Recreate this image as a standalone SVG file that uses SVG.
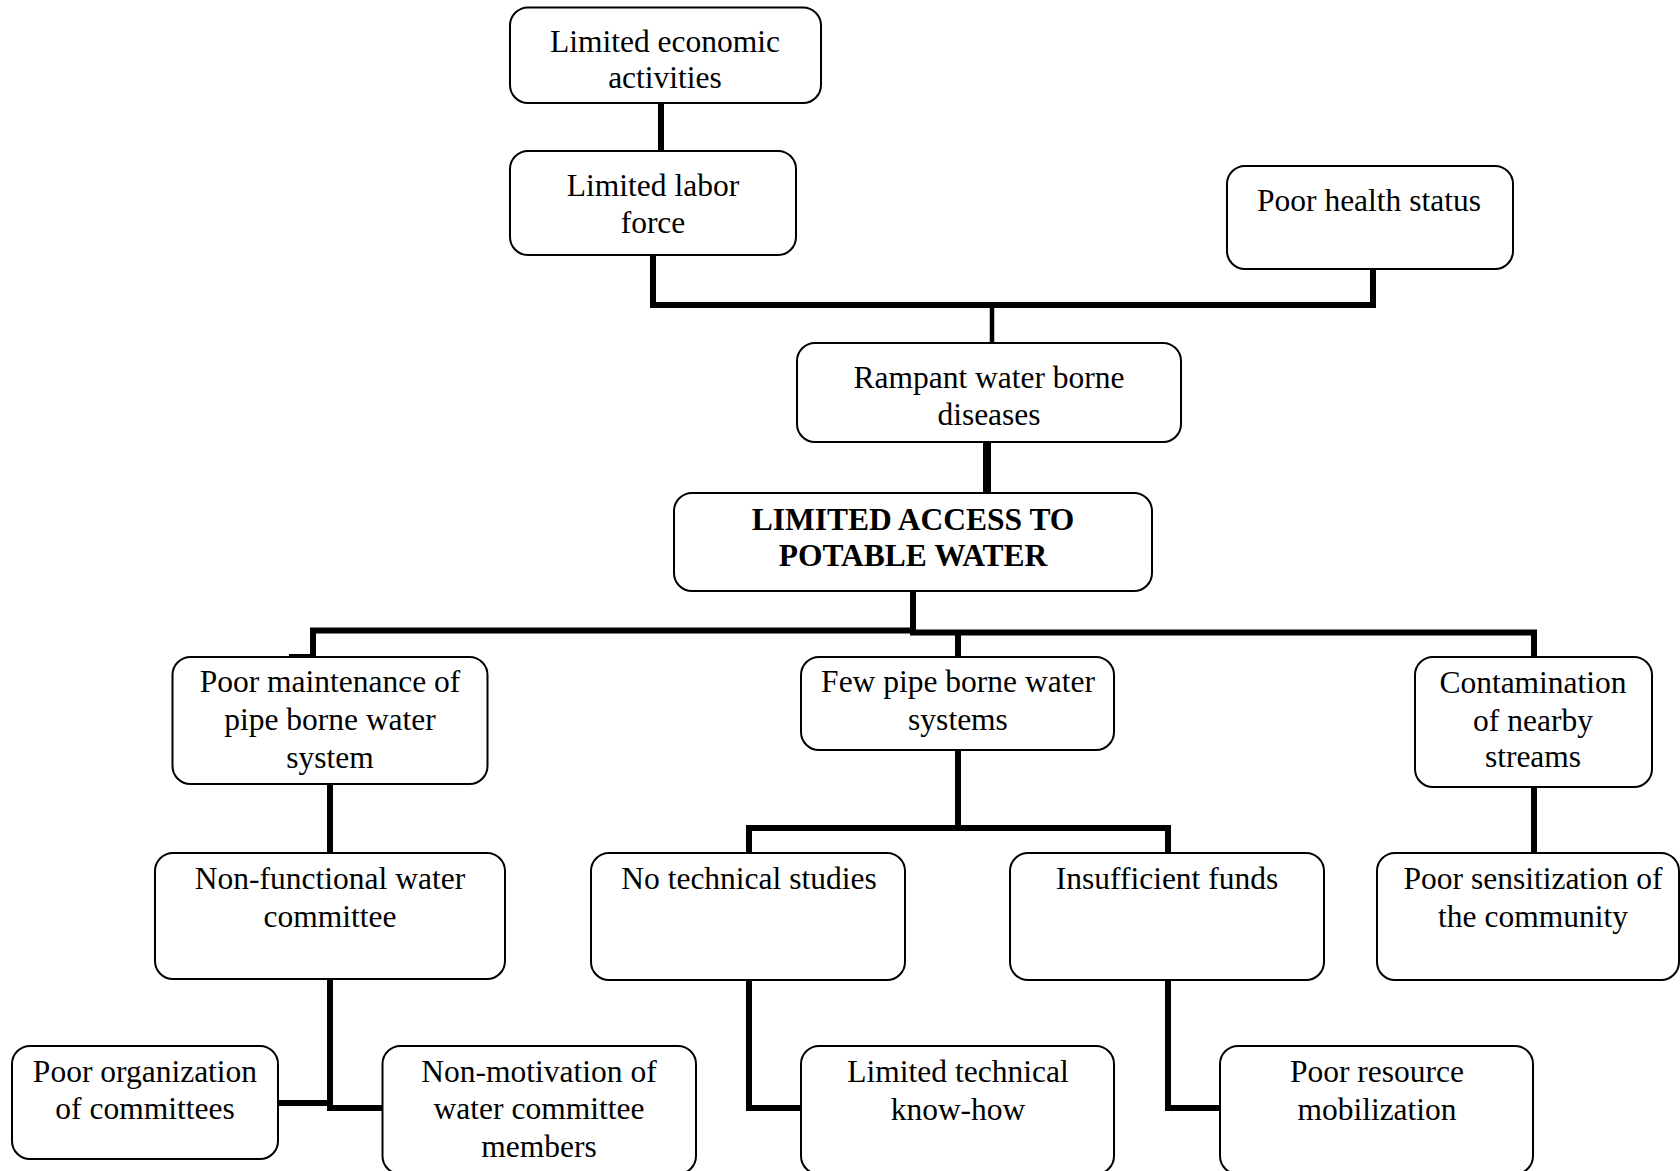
<svg xmlns="http://www.w3.org/2000/svg" width="1680" height="1171" viewBox="0 0 1680 1171">
<style>
.box{fill:#fff;stroke:#000;stroke-width:2}
.t{font-family:"Liberation Serif","Times New Roman",serif;font-size:31.5px;fill:#000;text-anchor:middle}
.b{font-weight:bold}
.c{fill:none;stroke:#000;stroke-width:6;stroke-linejoin:miter}
</style>
<rect width="1680" height="1171" fill="#fff"/>
<g id="connectors">
<path class="c" d="M661,103V151"/>
<path class="c" d="M653,255V305H1373V269"/>
<path class="c" d="M992,305V343" style="stroke-width:4.5"/>
<path class="c" d="M987,442V493" style="stroke-width:8"/>
<path class="c" d="M913,591V631.5"/>
<path class="c" d="M916,630.5H313V657"/>
<path class="c" d="M289,657H316"/>
<path class="c" d="M910,632.5H1534V657"/>
<path class="c" d="M958,632V657"/>
<path class="c" d="M330,784V853"/>
<path class="c" d="M958,750V828"/>
<path class="c" d="M749,853V828H1168V853"/>
<path class="c" d="M1534,787V853"/>
<path class="c" d="M330,979V1111"/>
<path class="c" d="M277,1103H330"/>
<path class="c" d="M330,1108H382"/>
<path class="c" d="M749,980V1108H801"/>
<path class="c" d="M1168,980V1108H1220"/>
</g>
<g id="n1"><rect class="box" x="510" y="7.5" width="311" height="95.5" rx="18"/><text class="t" x="665" y="51.5">Limited economic</text><text class="t" x="665" y="87.5">activities</text></g>
<g id="n2"><rect class="box" x="510" y="151" width="286" height="104" rx="18"/><text class="t" x="653" y="195.5">Limited labor</text><text class="t" x="653" y="232.5">force</text></g>
<g id="n3"><rect class="box" x="1227" y="166" width="286" height="103" rx="18"/><text class="t" x="1369" y="210.5">Poor health status</text></g>
<g id="n4"><rect class="box" x="797" y="343" width="384" height="99" rx="18"/><text class="t" x="989" y="387.5">Rampant water borne</text><text class="t" x="989" y="424.5">diseases</text></g>
<g id="n5"><rect class="box" x="674" y="493" width="478" height="98" rx="18"/><text class="t b" x="913" y="529.5">LIMITED ACCESS TO</text><text class="t b" x="913" y="565.5">POTABLE WATER</text></g>
<g id="n6"><rect class="box" x="172.5" y="657" width="315" height="127" rx="18"/><text class="t" x="330" y="691.5">Poor maintenance of</text><text class="t" x="330" y="729.5">pipe borne water</text><text class="t" x="330" y="767.5">system</text></g>
<g id="n7"><rect class="box" x="801" y="657" width="313" height="93" rx="18"/><text class="t" x="958" y="691.5">Few pipe borne water</text><text class="t" x="958" y="729.5">systems</text></g>
<g id="n8"><rect class="box" x="1415" y="657" width="237" height="130" rx="18"/><text class="t" x="1533" y="692.5">Contamination</text><text class="t" x="1533" y="730.5">of nearby</text><text class="t" x="1533" y="766.5">streams</text></g>
<g id="n9"><rect class="box" x="155" y="853" width="350" height="126" rx="18"/><text class="t" x="330" y="888.5">Non-functional water</text><text class="t" x="330" y="926.5">committee</text></g>
<g id="n10"><rect class="box" x="591" y="853" width="314" height="127" rx="18"/><text class="t" x="749" y="888.5">No technical studies</text></g>
<g id="n11"><rect class="box" x="1010" y="853" width="314" height="127" rx="18"/><text class="t" x="1167" y="888.5">Insufficient funds</text></g>
<g id="n12"><rect class="box" x="1377" y="853" width="302" height="127" rx="18"/><text class="t" x="1533" y="888.5">Poor sensitization of</text><text class="t" x="1533" y="926.5">the community</text></g>
<g id="n13"><rect class="box" x="12" y="1046" width="266" height="113" rx="18"/><text class="t" x="145" y="1081.5">Poor organization</text><text class="t" x="145" y="1118.5">of committees</text></g>
<g id="n14"><rect class="box" x="382.5" y="1046" width="313.5" height="128" rx="18"/><text class="t" x="539" y="1081.5">Non-motivation of</text><text class="t" x="539" y="1118.5">water committee</text><text class="t" x="539" y="1156.5">members</text></g>
<g id="n15"><rect class="box" x="801" y="1046" width="313" height="128" rx="18"/><text class="t" x="958" y="1081.5">Limited technical</text><text class="t" x="958" y="1119.5">know-how</text></g>
<g id="n16"><rect class="box" x="1220" y="1046" width="313" height="128" rx="18"/><text class="t" x="1377" y="1081.5">Poor resource</text><text class="t" x="1377" y="1119.5">mobilization</text></g>
</svg>
